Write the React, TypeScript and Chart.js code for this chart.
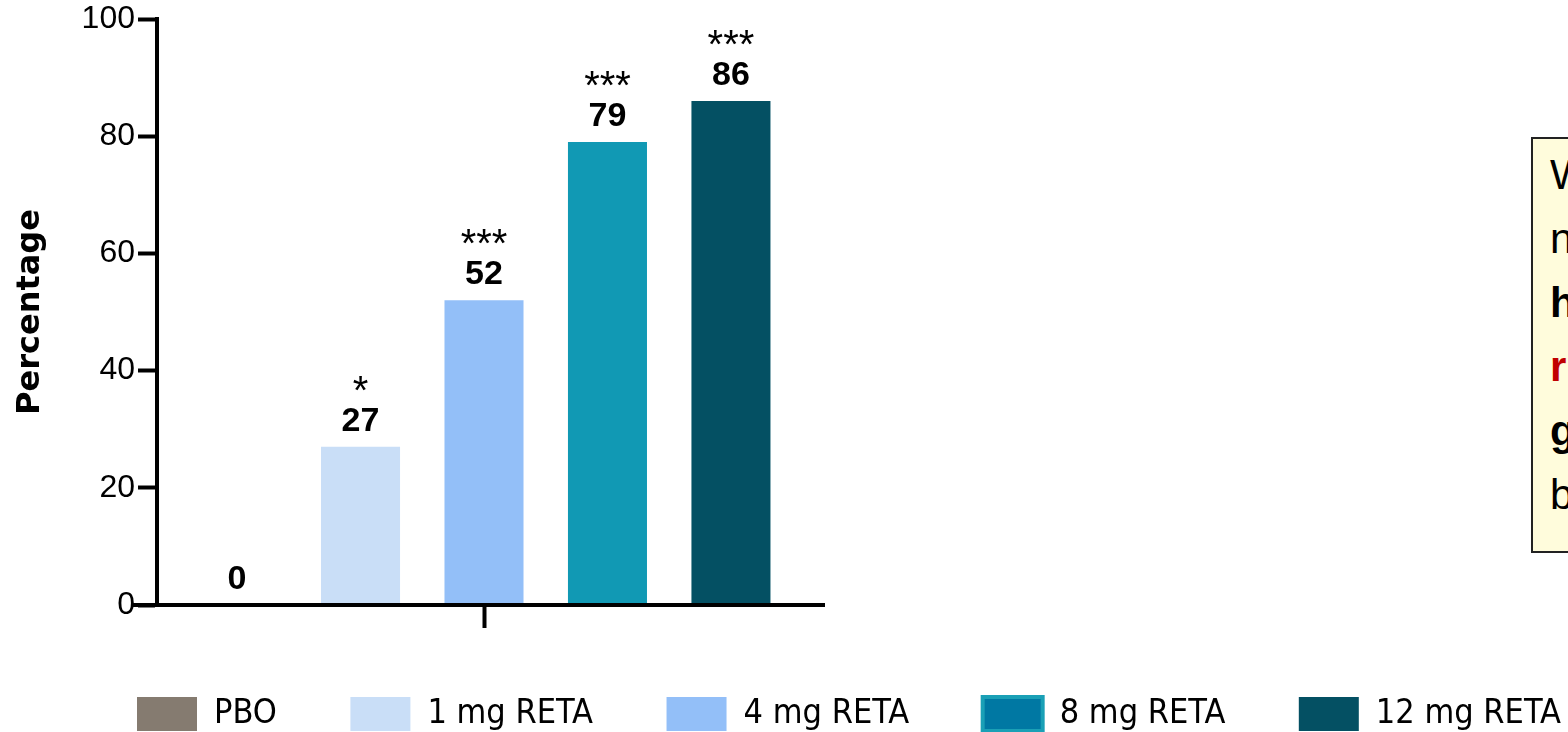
import { useEffect, useRef } from "react";
import { Chart, registerables } from "chart.js";

Chart.register(...registerables);

// Response rate by treatment arm (single category, one dataset per arm)
const categories = [""];
const arms = ["PBO", "1 mg RETA", "4 mg RETA", "8 mg RETA", "12 mg RETA"];
const percentages = [0, 27, 52, 79, 86];
const significance = ["", "*", "***", "***", "***"];
const yTicks = [0, 20, 40, 60, 80, 100];
const yTitle = "Percentage";

const barColors = ["#857B70", "#C9DEF7", "#93BFF8", "#1199B4", "#045063"];
const legendFill = ["#857B70", "#C9DEF7", "#93BFF8", "#0078A3", "#045063"];
const legendStroke = ["#857B70", "#C9DEF7", "#93BFF8", "#1AA0B6", "#045063"];
const legendLineWidth = [0, 0, 0, 4, 0];

// Side note lines (the box runs past the right edge of the page)
const noteLines = [
  { text: "W", bold: false, color: "#000" },
  { text: "n", bold: false, color: "#000" },
  { text: "h", bold: true, color: "#000" },
  { text: "r", bold: true, color: "#C00000" },
  { text: "g", bold: true, color: "#000" },
  { text: "b", bold: false, color: "#000" },
];

const SANS = "'Liberation Sans', Arial, Helvetica, sans-serif";
const CANVAS_W = 1800;
const CANVAS_H = 741;
const LEGEND_GAP = 73.5;
const PAD_LEFT = 137 - LEGEND_GAP;
const TITLE_SIZE = 32;

const valueLabels = {
  id: "valueLabels",
  afterDatasetsDraw(chart: any) {
    const ctx = chart.ctx;
    ctx.save();
    ctx.textAlign = "center";
    ctx.textBaseline = "alphabetic";
    ctx.fillStyle = "#000";
    chart.data.datasets.forEach((ds: any, i: number) => {
      const bar = chart.getDatasetMeta(i).data[0];
      if (!bar) return;
      const { x, y } = bar.getProps(["x", "y"], true);
      ctx.font = `bold 34px ${SANS}`;
      ctx.fillText(String(ds.data[0]), x, y - 16);
      if (significance[i]) {
        ctx.font = `40px ${SANS}`;
        ctx.fillText(significance[i], x, y - 43);
      }
    });
    ctx.restore();
  },
};

const baseLine = {
  id: "baseLine",
  afterDraw(chart: any) {
    const { ctx, chartArea } = chart;
    ctx.save();
    ctx.strokeStyle = "#000";
    ctx.lineWidth = 4;
    ctx.beginPath();
    ctx.moveTo(chartArea.left - 24, chartArea.bottom);
    ctx.lineTo(chartArea.right + 14, chartArea.bottom);
    ctx.stroke();
    ctx.restore();
  },
};

export default function App() {
  const canvasRef = useRef<HTMLCanvasElement | null>(null);

  useEffect(() => {
    const canvas = canvasRef.current;
    if (!canvas) return;
    const chart = new Chart(canvas, {
      type: "bar",
      data: {
        labels: categories,
        datasets: arms.map((name, i) => ({
          label: name,
          data: [percentages[i]],
          backgroundColor: barColors[i],
          borderWidth: 0,
          categoryPercentage: 0.944,
          barPercentage: 0.64,
        })),
      },
      options: {
        animation: false,
        responsive: false,
        devicePixelRatio: 1,
        layout: { padding: { left: PAD_LEFT, top: 13, right: 0, bottom: 0 } },
        plugins: {
          tooltip: { enabled: false },
          legend: {
            position: "bottom",
            align: "start",
            labels: {
              boxWidth: 60,
              boxHeight: 34,
              padding: LEGEND_GAP,
              color: "#000",
              font: { family: "'DejaVu Sans Condensed', 'Liberation Sans Narrow', sans-serif", size: 34 },
              generateLabels: (c: any) =>
                Chart.defaults.plugins.legend.labels.generateLabels(c).map((item: any, i: number) => ({
                  ...item,
                  fillStyle: legendFill[i],
                  strokeStyle: legendStroke[i],
                  lineWidth: legendLineWidth[i],
                })),
            },
          },
        },
        scales: {
          x: {
            grid: {
              offset: false,
              drawOnChartArea: false,
              drawTicks: true,
              tickLength: 23,
              tickWidth: 4,
              tickColor: "#000",
            },
            border: { display: false },
            ticks: { display: false },
            afterFit(scale: any) {
              scale.height = 18.5;
            },
          },
          y: {
            min: yTicks[0],
            max: yTicks[yTicks.length - 1],
            ticks: {
              stepSize: yTicks[1] - yTicks[0],
              color: "#000",
              padding: 3,
              font: { family: SANS, size: 32, lineHeight: 1 },
            },
            grid: {
              drawOnChartArea: false,
              drawTicks: true,
              tickLength: 19,
              tickWidth: 4,
              tickColor: "#000",
            },
            border: { display: true, color: "#000", width: 4 },
            title: {
              display: true,
              text: yTitle,
              color: "#000",
              font: { family: "'DejaVu Sans', sans-serif", size: TITLE_SIZE, weight: "bold" },
              padding: { top: 31 - PAD_LEFT - TITLE_SIZE * 0.6, bottom: 0 },
            },
            afterFit(scale: any) {
              scale.width = 157 - PAD_LEFT;
            },
          },
          side: {
            type: "linear",
            position: "right",
            min: 0,
            max: 1,
            grid: { display: false },
            border: { display: false },
            ticks: { display: false },
            afterFit(scale: any) {
              scale.width = CANVAS_W - 811;
            },
          },
        },
      } as any,
      plugins: [valueLabels, baseLine],
    });
    return () => chart.destroy();
  }, []);

  return (
    <div
      style={{
        position: "fixed",
        inset: 0,
        overflow: "hidden",
        background: "#fff",
      }}
    >
      <canvas
        ref={canvasRef}
        width={CANVAS_W}
        height={CANVAS_H}
        style={{ position: "absolute", left: 0, top: 0, width: CANVAS_W, height: CANVAS_H }}
      />
      <div
        style={{
          position: "absolute",
          left: 1531,
          top: 137,
          width: 400,
          height: 416,
          boxSizing: "border-box",
          background: "#FFFCDC",
          border: "2px solid #222",
          padding: "4px 0 0 17px",
          fontFamily: SANS,
          fontSize: 42,
          lineHeight: "64px",
        }}
      >
        {noteLines.map((l, i) => (
          <div key={i} style={{ fontWeight: l.bold ? 700 : 400, color: l.color, whiteSpace: "nowrap" }}>
            {l.text}
          </div>
        ))}
      </div>
    </div>
  );
}
